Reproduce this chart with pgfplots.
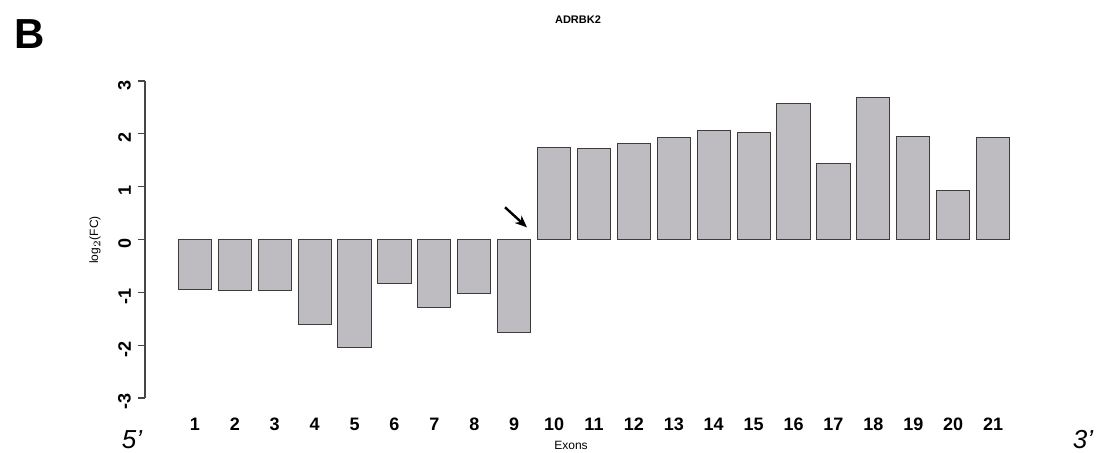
\documentclass[border=0pt]{standalone}
\usepackage{pgfplots}
\pgfplotsset{compat=1.18}
\usepackage{fontspec}
\setmainfont{Liberation Sans}
\usetikzlibrary{arrows.meta}
\definecolor{barfill}{RGB}{190,188,192}
\definecolor{baredge}{RGB}{60,60,60}
\definecolor{axgray}{RGB}{70,70,70}
\pgfplotstableread{
x y
1 -0.95
2 -0.96
3 -0.96
4 -1.60
5 -2.04
6 -0.83
7 -1.29
8 -1.02
9 -1.76
10 1.74
11 1.72
12 1.82
13 1.93
14 2.06
15 2.03
16 2.58
17 1.44
18 2.69
19 1.95
20 0.93
21 1.93
}\exons
\begin{document}
\begin{tikzpicture}[x=0.5pt,y=0.5pt]
\path[use as bounding box] (0,0) rectangle (1100,453);
\begin{axis}[
  at={(72.5pt,27.5pt)}, anchor=south west,
  width=449pt, height=158.5pt, scale only axis,
  xmin=-0.25, xmax=22.25, ymin=-3, ymax=3,
  axis y line=left, axis x line=bottom,
  x axis line style={draw=none},
  y axis line style={-, draw=axgray, line width=0.6pt},
  ytick={-3,-2,-1,0,1,2,3},
  ytick style={draw=axgray, line width=0.6pt},
  tick align=outside, major tick length=3.5pt,
  xtick={1,...,21}, xtick style={draw=none},
  /pgf/number format/assume math mode=true,
  xticklabel style={font=\fontsize{9}{10}\selectfont\bfseries, yshift=-3pt},
  yticklabel style={font=\fontsize{9}{10}\selectfont\bfseries, rotate=90, anchor=south, xshift=-2pt},
  clip=false,
]
\addplot[ybar, bar width=16.6pt, fill=barfill, draw=baredge, line width=0.5pt, mark=none] table[x=x,y=y] {\exons};
\draw[-{Stealth[length=6pt,width=5pt]}, line width=1.2pt] (axis cs:8.77,0.61) -- (axis cs:9.32,0.23);
\end{axis}
\node[font=\fontsize{21}{24}\selectfont\bfseries] at (30,419) {B};
\node[font=\fontsize{5.5}{6}\selectfont\bfseries] at (578,433) {ADRBK2};
\node[rotate=90, font=\fontsize{6}{7}\selectfont] at (95,213) {log$_2$(FC)};
\node[font=\fontsize{6}{7}\selectfont] at (571,8) {Exons};
\node[font=\fontsize{13}{15}\selectfont\itshape, anchor=base] at (132,4) {5’};
\node[font=\fontsize{13}{15}\selectfont\itshape, anchor=base] at (1083,4) {3’};
\end{tikzpicture}
\end{document}
